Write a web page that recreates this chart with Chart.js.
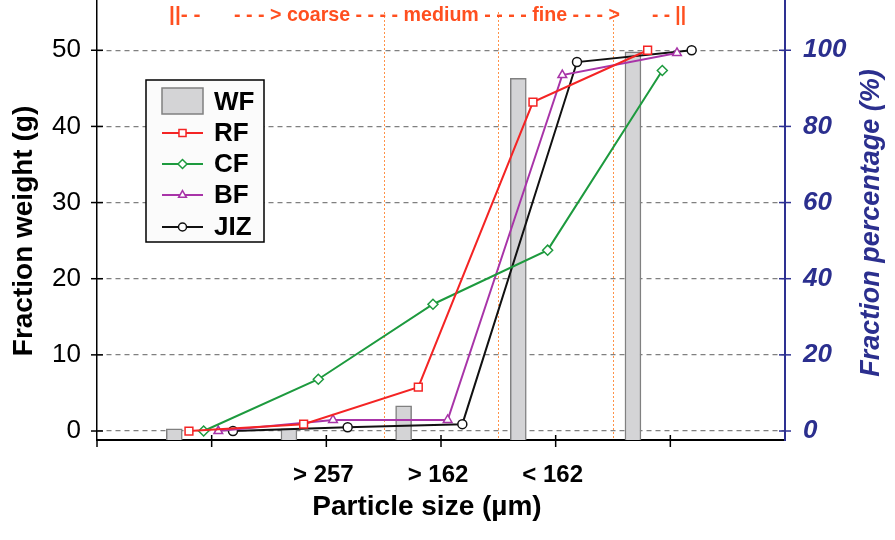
<!DOCTYPE html>
<html>
<head>
<meta charset="utf-8">
<script src="https://cdn.jsdelivr.net/npm/chart.js@4.4.1/dist/chart.umd.min.js"></script>
<style>
  html, body { margin: 0; padding: 0; background: #fff; }
</style>
</head>
<body>
<canvas id="chart" width="895" height="540"></canvas>
<script>
// x axis: ticks 0..6, labels only on the three size classes
const xTickLabels = ["", "", "> 257", "> 162", "< 162", "", ""];
const classBounds = [2.5, 3.5, 4.5];
const weightTicks = [0, 10, 20, 30, 40, 50];
const percentTicks = [0, 20, 40, 60, 80, 100];

// WF: fraction weight (g), the others: cumulative fraction percentage (%)
const wf = [0.3, 0.3, 3.3, 46.3, 49.8];
const rf = [0, 1.8, 11.5, 86.4, 100];
const cf = [0, 13.6, 33.3, 47.5, 94.7];
const bf = [0, 2.9, 2.9, 93.5, 99.3];
const jiz = [0, 1.0, 1.8, 96.9, 100];

const FONT = "Arial, 'Liberation Sans', sans-serif";
const BLUE = "#2b2f8e";
const Y_MIN = -1.18, Y_MAX = 56.6;

Chart.defaults.font.family = FONT;

// each group is spread around its tick: bar first, then the four lines
function slotX(i, k) {
  return i + 1 - 0.07 + (k - 2) * 0.128;
}

const lineSeries = [
  { label: "RF", values: rf, color: "#f42424", point: "rect", r: 5.5 },
  { label: "CF", values: cf, color: "#1d9a3e", point: "rectRot", r: 5 },
  { label: "BF", values: bf, color: "#a834a8", point: "triangle", r: 5 },
  { label: "JIZ", values: jiz, color: "#111111", point: "circle", r: 4.5 }
];

const datasets = [{
  type: "bar",
  label: "WF",
  data: wf.map((v, i) => ({ x: slotX(i, 0), y: v })),
  backgroundColor: "#d4d4d6",
  borderColor: "#808080",
  borderWidth: 1.5,
  barThickness: 16,
  base: Y_MIN,
  yAxisID: "y",
  order: 2
}];

lineSeries.forEach((s, k) => {
  datasets.push({
    type: "line",
    label: s.label,
    data: s.values.map((v, i) => ({ x: slotX(i, k + 1), y: v })),
    yAxisID: "y2",
    borderColor: s.color,
    borderWidth: 2,
    pointStyle: s.point,
    pointRadius: s.r,
    pointBorderWidth: 1.5,
    pointBorderColor: s.color,
    pointBackgroundColor: "#fff",
    tension: 0,
    clip: false,
    order: 1
  });
});

const marker = (ctx, style, r, x, y) => {
  if (Chart.helpers && Chart.helpers.drawPoint) {
    Chart.helpers.drawPoint(ctx, { pointStyle: style, radius: r, rotation: 0, borderWidth: 1.5 }, x, y);
  } else {
    ctx.beginPath();
    ctx.arc(x, y, r, 0, Math.PI * 2);
    ctx.fill();
    ctx.stroke();
  }
};

const noPad = s => { s.paddingTop = 0; s.paddingBottom = 0; };

const decor = {
  id: "decor",
  beforeDatasetsDraw(chart) {
    const { ctx, scales: { x }, chartArea } = chart;
    ctx.save();
    ctx.strokeStyle = "#ff9248";
    ctx.lineWidth = 1;
    ctx.setLineDash([2, 2]);
    classBounds.forEach(b => {
      const px = Math.round(x.getPixelForValue(b)) + 0.5;
      ctx.beginPath();
      ctx.moveTo(px, chartArea.top + 12);
      ctx.lineTo(px, chartArea.bottom);
      ctx.stroke();
    });
    ctx.restore();
  },
  afterDraw(chart) {
    const { ctx, scales: { x, y, y2 } } = chart;
    ctx.save();

    // crossing tick marks
    ctx.lineWidth = 1.5;
    ctx.strokeStyle = "#000";
    weightTicks.forEach(v => {
      const py = y.getPixelForValue(v);
      ctx.beginPath(); ctx.moveTo(y.right - 6, py); ctx.lineTo(y.right + 6, py); ctx.stroke();
    });
    for (let i = 1; i < xTickLabels.length - 1; i++) {
      const px = x.getPixelForValue(i);
      ctx.beginPath(); ctx.moveTo(px, x.top - 5); ctx.lineTo(px, x.top + 7); ctx.stroke();
    }
    ctx.beginPath(); ctx.moveTo(y.right, x.top); ctx.lineTo(y.right, x.top + 7); ctx.stroke();
    ctx.strokeStyle = "#2e3192";
    percentTicks.forEach(v => {
      const py = y2.getPixelForValue(v);
      ctx.beginPath(); ctx.moveTo(y2.left - 6, py); ctx.lineTo(y2.left + 6, py); ctx.stroke();
    });

    // size class banner
    ctx.fillStyle = "#ff4f1f";
    ctx.font = "bold 21px 'Liberation Sans Narrow', " + FONT;
    ctx.textBaseline = "middle";
    ctx.textAlign = "left";
    ctx.fillText("||- -", 169, 15, 38);
    ctx.fillText("- - - > coarse - - - - medium - - - - fine - - - >", 234, 15, 386);
    ctx.fillText("- - ||", 652, 15, 34);

    // legend
    ctx.fillStyle = "#fbfbfb";
    ctx.fillRect(146, 80, 118, 162);
    ctx.strokeStyle = "#000";
    ctx.lineWidth = 1.5;
    ctx.strokeRect(146, 80, 118, 162);
    const rows = [102, 133, 164, 195, 227];
    const bar = chart.data.datasets[0];
    ctx.fillStyle = bar.backgroundColor;
    ctx.fillRect(162, 88, 41, 26);
    ctx.strokeStyle = bar.borderColor;
    ctx.strokeRect(162, 88, 41, 26);
    lineSeries.forEach((s, k) => {
      const ry = rows[k + 1];
      ctx.strokeStyle = s.color;
      ctx.lineWidth = 2;
      ctx.beginPath(); ctx.moveTo(162, ry); ctx.lineTo(203, ry); ctx.stroke();
      ctx.fillStyle = "#fff";
      ctx.lineWidth = 1.5;
      marker(ctx, s.point, s.r - 0.5, 182.5, ry);
    });
    ctx.fillStyle = "#000";
    ctx.font = "bold 26px " + FONT;
    chart.data.datasets.forEach((d, k) => ctx.fillText(d.label, 214, rows[k] + 1));

    // axis titles
    ctx.textAlign = "center";
    ctx.font = "bold 28px " + FONT;
    ctx.fillText("Particle size (\u00b5m)", 427, 507);
    ctx.save();
    ctx.translate(24, 231);
    ctx.rotate(-Math.PI / 2);
    ctx.fillText("Fraction weight (g)", 0, 0);
    ctx.restore();
    ctx.save();
    ctx.translate(872, 223);
    ctx.rotate(-Math.PI / 2);
    ctx.fillStyle = BLUE;
    ctx.font = "italic bold 27px " + FONT;
    ctx.fillText("Fraction percentage (%)", 0, 0);
    ctx.restore();

    ctx.restore();
  }
};

new Chart(document.getElementById("chart"), {
  type: "bar",
  data: { datasets },
  plugins: [decor],
  options: {
    responsive: false,
    animation: false,
    layout: { padding: 0, autoPadding: false },
    plugins: { legend: { display: false }, tooltip: { enabled: false } },
    scales: {
      x: {
        type: "linear",
        min: 0,
        max: xTickLabels.length - 1,
        offset: false,
        afterBuildTicks: s => { s.ticks = xTickLabels.map((_, i) => ({ value: i })); },
        ticks: {
          callback: (v, i) => xTickLabels[i],
          font: { size: 24, weight: "bold" },
          color: "#000",
          padding: 21,
          labelOffset: -3,
          maxRotation: 0,
          autoSkip: false
        },
        grid: { drawOnChartArea: false, drawTicks: false },
        border: { color: "#000", width: 2 },
        afterFit: s => { s.height = 100; s.paddingLeft = 0; s.paddingRight = 0; }
      },
      y: {
        position: "left",
        min: Y_MIN,
        max: Y_MAX,
        afterBuildTicks: s => { s.ticks = weightTicks.map(v => ({ value: v })); },
        ticks: { font: { size: 26 }, color: "#000", padding: 16 },
        grid: { color: "#808080", lineWidth: 1.2, drawTicks: false },
        border: { color: "#000", width: 1.5, dash: [5, 4] },
        afterFit: s => { s.width = 97; noPad(s); }
      },
      y2: {
        position: "right",
        min: Y_MIN * 2,
        max: Y_MAX * 2,
        afterBuildTicks: s => { s.ticks = percentTicks.map(v => ({ value: v })); },
        ticks: { font: { size: 26, weight: "bold", style: "italic" }, color: BLUE, padding: 18 },
        grid: { drawOnChartArea: false, drawTicks: false },
        border: { color: "#2e3192", width: 2 },
        afterFit: s => { s.width = 110; noPad(s); }
      }
    }
  }
});
</script>
</body>
</html>
